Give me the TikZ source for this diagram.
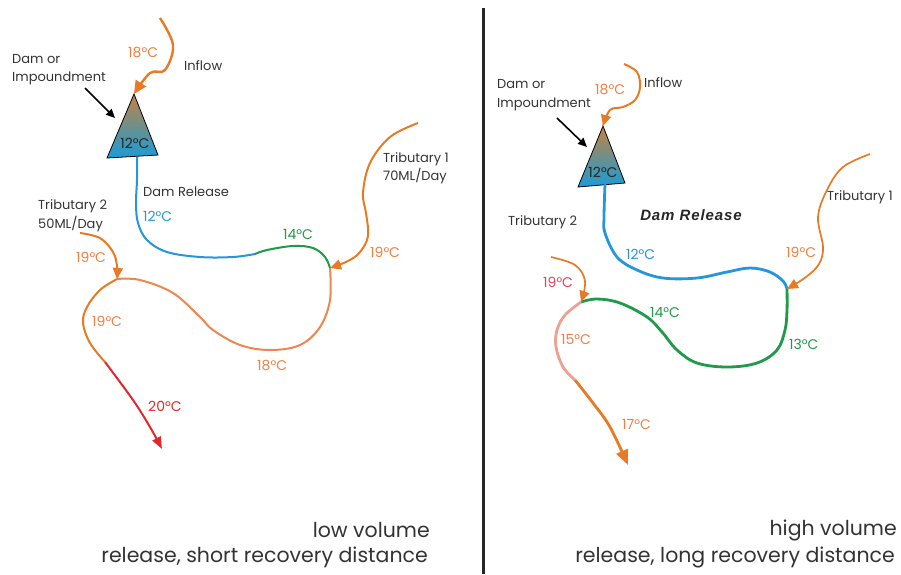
\documentclass[tikz,border=0pt]{standalone}
\usepackage{fontspec}
\setmainfont{Poppins}
\newfontfamily\drfont[LetterSpace=6]{Liberation Sans}
\usetikzlibrary{arrows.meta}
\definecolor{arrowor}{HTML}{E87A25}
\definecolor{loopor}{HTML}{EE8650}
\definecolor{tempor}{HTML}{F08040}
\definecolor{rblue}{HTML}{2396DE}
\definecolor{rgreen}{HTML}{1F9A48}
\definecolor{rred}{HTML}{E0282C}
\definecolor{rpink}{HTML}{E8405E}
\definecolor{rsalmon}{HTML}{F0A090}
\definecolor{txt}{HTML}{333333}
\definecolor{damtop}{HTML}{C4823F}
\definecolor{dammid}{HTML}{56868C}
\definecolor{dambot}{HTML}{1A9CD8}
\begin{document}
\begin{tikzpicture}[x=1pt,y=-1pt,
  lbl/.style={font=\fontsize{13}{18.5}\selectfont, text=txt, inner sep=0pt, anchor=west, align=left},
  temp/.style={font=\fontsize{14}{16}\selectfont, inner sep=0pt, anchor=west},
  big/.style={font=\fontsize{20.5}{26}\selectfont, text=txt, inner sep=0pt, anchor=east},
  dam/.style={draw=black, line width=0.8pt},
  ptr/.style={-{Triangle[length=9pt,width=8pt]}, line width=1.6pt, black},
  inarrow/.style={-{Triangle[length=13pt,width=12pt]}, line width=2.4pt, arrowor},
  tribarrow/.style={-{Triangle[length=11pt,width=10pt]}, line width=2pt, arrowor},
  riv/.style={line width=2pt},
  rivb/.style={line width=2.8pt}
]
\useasboundingbox (0,0) rectangle (901,574);

% ---------------- divider
\draw[line width=3pt, black!85] (483,8) -- (483,574);

% ================= LEFT PANEL
\coordinate (LA) at (134,94);
\coordinate (LBL) at (107,158);
\coordinate (LBR) at (158,155);
\coordinate (LR) at (137,157);
\coordinate (LBG) at (255,254);
\coordinate (LJ1) at (330,268);
\coordinate (LJ2) at (117,279);
\coordinate (LOR) at (105,362);
\coordinate (LEND) at (162,449);
\coordinate (LIN) at (160,18);
\coordinate (LT1) at (418,123);
\coordinate (LT2) at (80,233);
\coordinate (LP0) at (85,88);
\coordinate (LP1) at (115,118);

\shade[top color=damtop, middle color=dammid, bottom color=dambot] (LA) -- (LBR) -- (LBL) -- cycle;
\draw[dam] (LA) -- (LBR) -- (LBL) -- cycle;
\node[font=\fontsize{14}{16}\selectfont, text=black!85, inner sep=0pt] (ldamt) at (135,143) {12°C};

\draw[inarrow] plot[smooth, tension=0.6] coordinates {(LIN) (173,45) (165,70) (150,73) (LA)};
\draw[ptr] (LP0) -- (LP1);

\draw[riv, rblue] plot[smooth, tension=0.6] coordinates {(LR) (137,180) (136,203) (138,223) (147,240) (167,252) (200,257) (233,257) (LBG)};
\draw[riv, rgreen] plot[smooth, tension=0.6] coordinates {(LBG) (267,250) (293,246) (313,248) (325,257) (LJ1)};
\draw[riv, loopor] plot[smooth, tension=0.6] coordinates {(LJ1) (330,300) (320,327) (300,345) (270,350) (240,345) (213,330) (200,317) (173,293) (140,280) (LJ2)};
\draw[riv, arrowor] plot[smooth, tension=0.6] coordinates {(LJ2) (100,290) (87,307) (83,323) (90,343) (LOR)};
\draw[riv, rred, -{Triangle[length=12pt,width=9pt]}] plot[smooth, tension=0.6] coordinates {(LOR) (133,400) (150,427) (LEND)};

\draw[tribarrow] plot[smooth, tension=0.6] coordinates {(LT1) (390,137) (370,163) (363,193) (366,213) (368,236) (360,252) (348,261) (LJ1)};
\draw[tribarrow] plot[smooth, tension=0.6] coordinates {(LT2) (100,238) (113,252) (117,266) (LJ2)};

\node[lbl] (ldam) at (12,69.5) {Dam or\\Impoundment};
\node[temp, text=tempor] (lt18) at (128,52) {18°C};
\node[lbl] (linf) at (184,66) {Inflow};
\node[lbl] (lrel) at (143,192) {Dam Release};
\node[temp, text=rblue] (lt12) at (143,216) {12°C};
\node[temp, text=rgreen] (lt14) at (283,234) {14°C};
\node[lbl] (ltr1) at (383,168) {Tributary 1\\70ML/Day};
\node[temp, text=tempor] (lt19a) at (370,252) {19°C};
\node[lbl] (ltr2) at (38,215.5) {Tributary 2\\50ML/Day};
\node[temp, text=tempor] (lt19b) at (76,257) {19°C};
\node[temp, text=tempor] (lt19c) at (92,321) {19°C};
\node[temp, text=tempor] (lt18b) at (257,365) {18°C};
\node[temp, text=rred] (lt20) at (148,406) {20°C};
\node[big] (lb1) at (430,530) {low volume};
\node[big] (lb2) at (428,557) {release, short recovery distance};

% ================= RIGHT PANEL
\coordinate (RA) at (603,126);
\coordinate (RBL) at (578,187);
\coordinate (RBR) at (625,183);
\coordinate (RR) at (605,184);
\coordinate (RJ1) at (787,289);
\coordinate (RJ2) at (581,302);
\coordinate (ROR) at (575,380);
\coordinate (REND) at (628,465);
\coordinate (RIN) at (624,64);
\coordinate (RT1) at (870,154);
\coordinate (RT2) at (551,257);
\coordinate (RP0) at (557,118);
\coordinate (RP1) at (587,147);

\shade[top color=damtop, middle color=dammid, bottom color=dambot] (RA) -- (RBR) -- (RBL) -- cycle;
\draw[dam] (RA) -- (RBR) -- (RBL) -- cycle;
\node[font=\fontsize{14}{16}\selectfont, text=black!85, inner sep=0pt] (rdamt) at (603,172) {12°C};

\draw[inarrow, line width=2pt, -{Triangle[length=11pt,width=10pt]}] plot[smooth, tension=0.6] coordinates {(RIN) (637,72) (640,87) (635,100) (623,107) (610,110) (RA)};
\draw[ptr] (RP0) -- (RP1);

\draw[rivb, rblue] plot[smooth, tension=0.6] coordinates {(RR) (604,217) (605,233) (617,257) (637,270) (663,278) (697,278) (727,272) (750,268) (770,272) (783,281) (RJ1)};
\draw[rivb, rgreen] plot[smooth, tension=0.6] coordinates {(RJ1) (787,310) (785,330) (777,350) (757,363) (727,367) (697,363) (677,350) (662,332) (647,317) (620,303) (597,299) (RJ2)};
\draw[rivb, rsalmon] plot[smooth, tension=0.6] coordinates {(RJ2) (565,315) (557,330) (556,347) (563,367) (ROR)};
\draw[rivb, arrowor, -{Triangle[length=15pt,width=12pt]}] plot[smooth, tension=0.6] coordinates {(ROR) (593,403) (610,427) (REND)};

\draw[tribarrow, line width=1.7pt] plot[smooth, tension=0.6] coordinates {(RT1) (843,167) (827,190) (818,217) (823,247) (819,264) (806,277) (RJ1)};
\draw[tribarrow, line width=1.7pt] plot[smooth, tension=0.6] coordinates {(RT2) (575,265) (585,281) (RJ2)};

\node[lbl] (rdam) at (497,95) {Dam or\\Impoundment};
\node[temp, text=tempor] (rt18) at (595,89) {18°C};
\node[lbl] (rinf) at (644,83) {Inflow};
\node[font=\drfont\bfseries\itshape\fontsize{15}{17}\selectfont, text=black!85, inner sep=0pt] (rrel) at (691,215) {Dam Release};
\node[lbl] (rtr2) at (508,222) {Tributary 2};
\node[temp, text=rblue] (rt12) at (626,254) {12°C};
\node[lbl] (rtr1) at (827,197) {Tributary 1};
\node[temp, text=tempor] (rt19a) at (786,252) {19°C};
\node[temp, text=rpink] (rt19b) at (543,282) {19°C};
\node[temp, text=rgreen] (rt14) at (650,312) {14°C};
\node[temp, text=rgreen] (rt13) at (789,344) {13°C};
\node[temp, text=tempor] (rt15) at (561,339) {15°C};
\node[temp, text=tempor] (rt17) at (622,424) {17°C};
\node[big] (rb1) at (897,530) {high volume};
\node[big] (rb2) at (895,557) {release, long recovery distance};
\end{tikzpicture}
\end{document}
